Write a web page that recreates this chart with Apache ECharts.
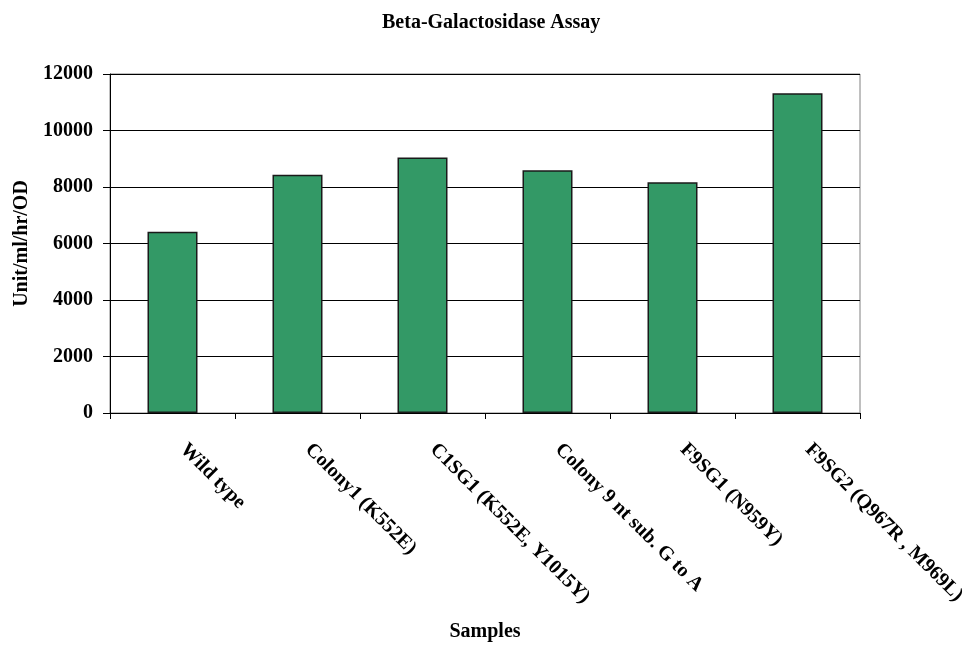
<!DOCTYPE html>
<html>
<head>
<meta charset="utf-8">
<script src="https://cdn.jsdelivr.net/npm/echarts@6/dist/echarts.min.js"></script>
<style>
  html, body { margin: 0; padding: 0; background: #fff; }
  #chart { width: 969px; height: 646px; }
</style>
</head>
<body>
<div id="chart"></div>
<script>
// Beta-galactosidase activity per sample
const samples = [
  'Wild type',
  'Colony1 (K552E)',
  'C1SG1 (K552E, Y1015Y)',
  'Colony 9 nt sub. G to A',
  'F9SG1 (N959Y)',
  'F9SG2 (Q967R , M969L)'
];
const activity = [6420, 8430, 9040, 8590, 8170, 11320];
const yTicks = [0, 2000, 4000, 6000, 8000, 10000, 12000];

const serif = '"Liberation Serif", "Times New Roman", serif';

const chart = echarts.init(document.getElementById('chart'), null, { renderer: 'canvas' });
chart.setOption({
  animation: false,
  backgroundColor: '#ffffff',
  title: {
    text: 'Beta-Galactosidase Assay',
    left: 377,
    top: 8,
    textStyle: { fontFamily: serif, fontWeight: 'bold', fontSize: 20, color: '#000' }
  },
  grid: {
    left: 110, right: 109, top: 74, bottom: 233,
    outerBoundsMode: 'none',
    containLabel: false,
    show: true, borderColor: '#808080', borderWidth: 1, backgroundColor: '#fff'
  },
  xAxis: {
    type: 'category',
    data: samples,
    name: 'Samples',
    nameLocation: 'middle',
    nameGap: 209,
    nameTextStyle: { fontFamily: serif, fontWeight: 'bold', fontSize: 20, color: '#000', verticalAlign: 'top' },
    axisLine: { show: true, lineStyle: { color: '#000', width: 1 } },
    axisTick: { show: true, alignWithLabel: false, length: 6, lineStyle: { color: '#000' } },
    axisLabel: {
      rotate: -45, interval: 0, margin: 23,
      padding: [0, 0, 0, 15],
      fontFamily: serif, fontWeight: 'bold', fontSize: 20, color: '#000'
    }
  },
  yAxis: {
    type: 'value',
    min: yTicks[0],
    max: yTicks[yTicks.length - 1],
    interval: yTicks[1] - yTicks[0],
    name: 'Unit/ml/hr/OD',
    nameLocation: 'middle',
    nameGap: 78,
    nameRotate: 90,
    nameTextStyle: { fontFamily: serif, fontWeight: 'bold', fontSize: 20, color: '#000' },
    axisLine: { show: true, lineStyle: { color: '#000', width: 1 } },
    axisTick: { show: true, length: 7, lineStyle: { color: '#000' } },
    axisLabel: {
      margin: 17, fontFamily: serif, fontWeight: 'bold', fontSize: 20, color: '#000',
      formatter: v => String(v)
    },
    splitLine: { show: true, lineStyle: { color: '#000', width: 1 } }
  },
  series: [{
    type: 'bar',
    data: activity,
    barWidth: '40%',
    itemStyle: { color: '#339966', borderColor: '#1a1a1a', borderWidth: 1.5 }
  }]
});
</script>
</body>
</html>
